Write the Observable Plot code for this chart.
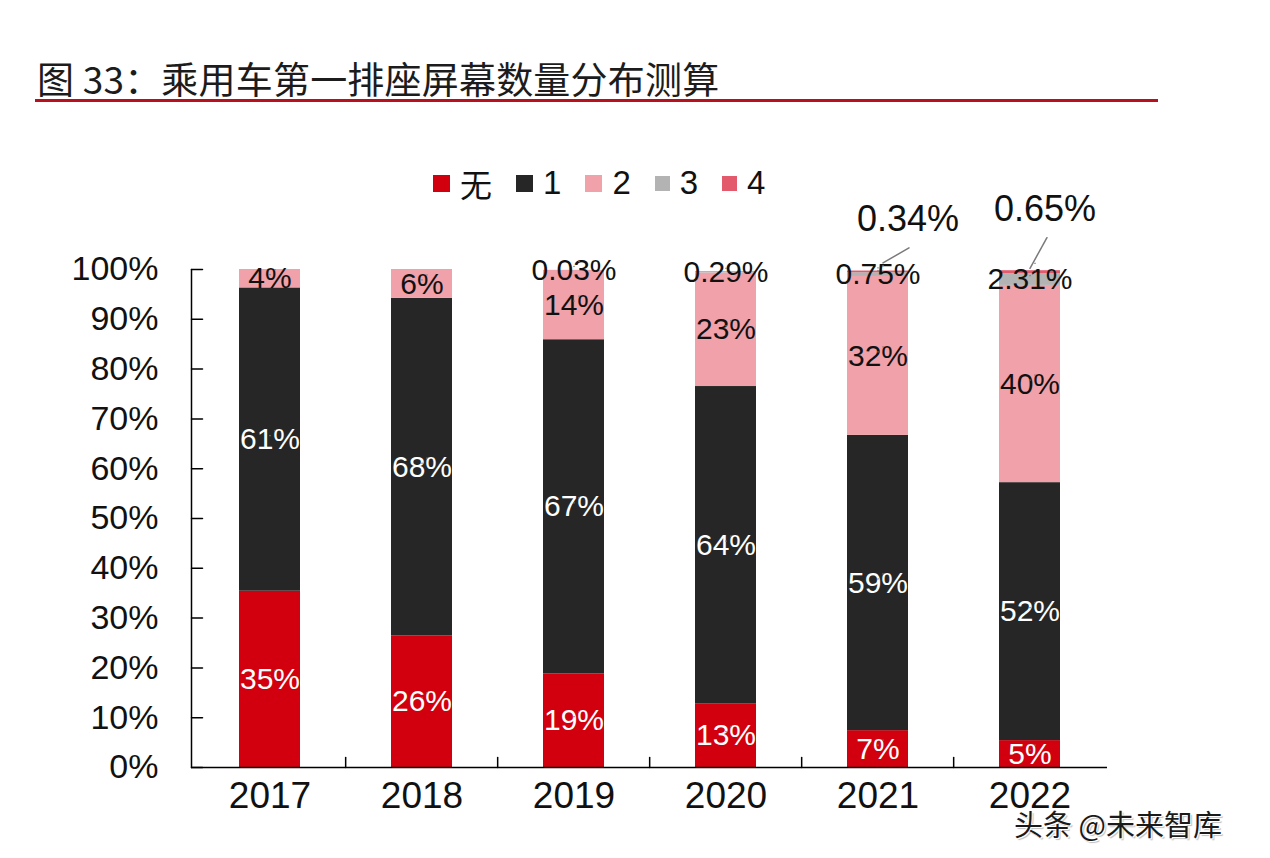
<!DOCTYPE html>
<html>
<head>
<meta charset="utf-8">
<script src="https://cdn.jsdelivr.net/npm/d3@7"></script>
<script src="https://cdn.jsdelivr.net/npm/@observablehq/plot@0.6"></script>
<style>
  html, body { margin: 0; padding: 0; background: #fff; }
  #wrap { position: relative; width: 1270px; height: 858px; overflow: hidden; background: #fff;
          font-family: "Liberation Sans", Arial, "Noto Sans CJK SC", sans-serif; }
  #title { position: absolute; left: 37px; top: 51px; font-family: "Noto Sans CJK SC", sans-serif;
           font-size: 37px; font-weight: 400; color: #1c1c1c; white-space: nowrap; letter-spacing: 0.2px; }
  #rule { position: absolute; left: 35px; top: 99px; width: 1123px; height: 3px; background: #b8101c; }
  #legend { position: absolute; left: 433px; top: 163px; display: flex; gap: 24px; align-items: center;
            font-size: 33px; color: #111; }
  .item { display: flex; align-items: center; gap: 10px; }
  .sw { display: inline-block; }
  .lab { line-height: 40px; }
  #legend .cjk { font-family: "Noto Sans CJK SC", sans-serif; font-size: 32px; }
  #chart { position: absolute; left: 0; top: 0; }
  #mark { position: absolute; left: 1014px; top: 802px; font-family: "Noto Sans CJK SC", sans-serif;
          font-size: 29px; color: #1a1a1a; white-space: nowrap;
          text-shadow: 1px 1px 0 #fff, -1px -1px 0 #fff, 2px 2px 1px rgba(0,0,0,0.25); }
</style>
</head>
<body>
<div id="wrap">
  <div id="title">图 33：乘用车第一排座屏幕数量分布测算</div>
  <div id="rule"></div>
  <div id="legend"></div>
  <div id="chart"></div>
  <div id="mark">头条 @未来智库</div>
</div>
<script>
// ---- data ----
const years = ["2017", "2018", "2019", "2020", "2021", "2022"];
const seriesNames = ["无", "1", "2", "3", "4"];
const none  = [35.4, 26.4, 18.8, 12.8, 7.4, 5.4];
const one   = [60.9, 67.8, 67.1, 63.7, 59.3, 51.8];
const two   = [3.7, 5.8, 13.9, 22.8, 31.9, 39.6];
const three = [0, 0, 0.03, 0.29, 0.75, 2.31];
const four  = [0, 0, 0, 0, 0.34, 0.65];
const yTicks = [0, 10, 20, 30, 40, 50, 60, 70, 80, 90, 100];
const colors = ["#d2000e", "#262626", "#f0a1a9", "#b3b3b3", "#e35a6d"];

// callout styling for the small top segments (offsets only)
const callouts = [
  {year: "2021", dx: 30, dy: -52, ldx: 5, ldy: -9, len: 30, rot: 60},
  {year: "2022", dx: 15, dy: -63, ldx: 0, ldy: -4, len: 35, rot: 29}
];

const seriesValues = [none, one, two, three, four];
const rows = years.flatMap((year, i) =>
  seriesNames.map((s, j) => ({year, series: s, si: j, value: seriesValues[j][i]})));
const labelRows = rows.filter(d => d.value > 0);
const fmt = d => d.si >= 3 ? d.value.toFixed(2) + "%" : Math.round(d.value) + "%";
const isCallout = d => d.si === 4;

// ---- legend ----
const legend = document.getElementById("legend");
seriesNames.forEach((s, j) => {
  const it = document.createElement("div");
  it.className = "item";
  const sw = document.createElement("span");
  sw.className = "sw";
  const sz = j >= 3 ? 15 : 17;
  sw.style.width = sz + "px"; sw.style.height = sz + "px"; sw.style.background = colors[j];
  const lb = document.createElement("span");
  lb.className = "lab" + (j === 0 ? " cjk" : "");
  lb.textContent = s;
  it.appendChild(sw); it.appendChild(lb);
  legend.appendChild(it);
});

// ---- chart ----
const W = 1270, H = 858;
const mT = 269, mB = 91, mL = 191, mR = 163;
const plotH = H - mT - mB;
const step = (W - mL - mR) / years.length;
const lineShape = {draw(ctx, l) { ctx.moveTo(0, 0); ctx.lineTo(0, -l); }};
const font = "Liberation Sans, Arial, sans-serif";

const marks = [
  Plot.barY(rows, {x: "year", y: "value", fill: "series"}),
  Plot.text(labelRows, Plot.stackY({
    x: "year", y: "value", z: "series",
    text: d => isCallout(d) ? "" : fmt(d),
    fill: d => d.si < 2 ? "#ffffff" : "#111111",
    fontSize: 30, fontFamily: font
  })),
  Plot.ruleY([0], {stroke: "#000", strokeWidth: 1.5}),
  Plot.vector([0], {frameAnchor: "bottom-left", length: plotH, rotate: 0, anchor: "start",
    shape: lineShape, stroke: "#000", strokeWidth: 1.5}),
  Plot.vector(yTicks, {y: d => d, frameAnchor: "left", length: 11, rotate: 90, anchor: "start",
    shape: lineShape, stroke: "#000", strokeWidth: 1.5}),
  Plot.vector(years.slice(1), {x: d => d, frameAnchor: "bottom", length: 10, rotate: 0, anchor: "start",
    dx: -step / 2, shape: lineShape, stroke: "#000", strokeWidth: 1.5}),
  Plot.axisY({ticks: yTicks, tickSize: 0, tickPadding: 33, tickFormat: d => d + "%",
    fontSize: 34, fontFamily: font, fill: "#111"}),
  Plot.axisX({tickSize: 0, tickPadding: 14, fontSize: 37, fontFamily: font, fill: "#111"})
];

callouts.forEach(c => {
  const hit = d => isCallout(d) && d.year === c.year;
  marks.push(
    Plot.vector(labelRows, Plot.stackY({
      x: "year", y: "value", z: "series",
      length: d => hit(d) ? c.len : 0, rotate: c.rot, anchor: "start", dx: c.ldx, dy: c.ldy,
      shape: lineShape, stroke: "#7a7a7a", strokeWidth: 1.5
    })),
    Plot.text(labelRows, Plot.stackY({
      x: "year", y: "value", z: "series",
      text: d => hit(d) ? fmt(d) : "", dx: c.dx, dy: c.dy, fill: "#111", fontSize: 36, fontFamily: font
    }))
  );
});

const chart = Plot.plot({
  width: W, height: H,
  marginTop: mT, marginBottom: mB, marginLeft: mL, marginRight: mR,
  style: {background: "transparent", fontFamily: font, overflow: "visible"},
  x: {type: "band", domain: years, paddingInner: 0.6, paddingOuter: 0.3, label: null},
  y: {domain: [0, 100], label: null},
  length: {type: "identity"},
  color: {domain: seriesNames, range: colors},
  marks
});
document.getElementById("chart").appendChild(chart);
</script>
</body>
</html>
